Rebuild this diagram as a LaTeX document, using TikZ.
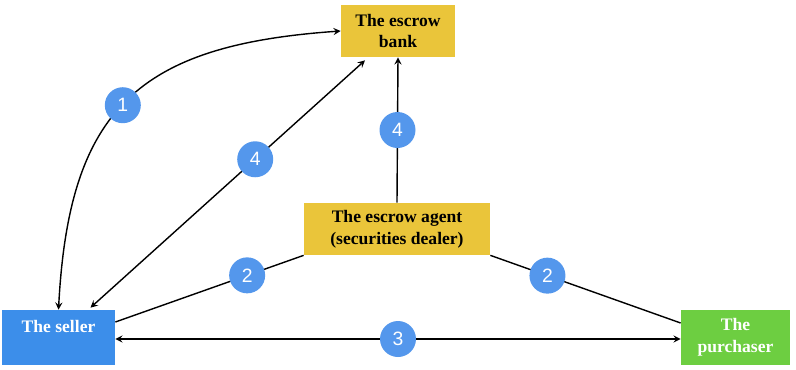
\documentclass[tikz,border=0pt]{standalone}
\usepackage{fontspec}
\setmainfont{Liberation Serif}
\newfontfamily\numfont{Liberation Sans}
\usepackage{tikz}
\usetikzlibrary{shapes, arrows, positioning, calc}

\definecolor{bankyellow}{RGB}{234,197,58}
\definecolor{sellerblue}{RGB}{60,142,234}
\definecolor{buyergreen}{RGB}{109,206,65}
\definecolor{dotblue}{RGB}{84,151,236}

\tikzset{
  party/.style={rectangle, inner sep=2pt, align=center, font=\bfseries\fontsize{10}{12.5}\selectfont},
  numdot/.style={circle, fill=dotblue, draw=none, minimum size=0.72cm, inner sep=0pt, text=white, font=\numfont\fontsize{11}{11}\selectfont},
  link/.style={thick, >=stealth}
}

\begin{document}
\begin{tikzpicture}
  \useasboundingbox (0, 0) rectangle (15.92, -7.38);

  \node[party, fill=bankyellow, minimum width=2.28cm, minimum height=1.04cm] (bank) at (7.96, -0.62) {The escrow\\bank};
  \node[party, fill=bankyellow, minimum width=3.72cm, minimum height=1.04cm] (agent) at (7.94, -4.58) {The escrow agent\\(securities dealer)};
  \node[party, fill=sellerblue, text=white, minimum width=2.26cm, minimum height=1.1cm] (seller) at (1.17, -6.75) {The seller\\\mbox{}};
  \node[party, fill=buyergreen, text=white, minimum width=2.18cm, minimum height=1.1cm] (buyer) at (14.71, -6.75) {The\\purchaser};

  \draw[link, <->] (bank.west) to[out=184, in=87, looseness=1.3] node[numdot, pos=0.52] (n1) {1} (seller.north);
  \draw[link, <->] ([xshift=0.64cm, yshift=0.04cm]seller.north) -- node[numdot, pos=0.6] (n4a) {4} ([xshift=-0.66cm, yshift=-0.06cm]bank.south);
  \draw[link, ->] (agent.north) -- node[numdot] (n4b) {4} (bank.south);
  \draw[link] (agent.south west) -- node[numdot, pos=0.3] (n2a) {2} ([yshift=0.31cm]seller.east);
  \draw[link] (agent.south east) -- node[numdot, pos=0.3] (n2b) {2} ([yshift=0.29cm]buyer.west);
  \draw[link, <->] ([yshift=-0.03cm]seller.east) -- node[numdot] (n3) {3} ([yshift=-0.03cm]buyer.west);
\end{tikzpicture}
\end{document}
